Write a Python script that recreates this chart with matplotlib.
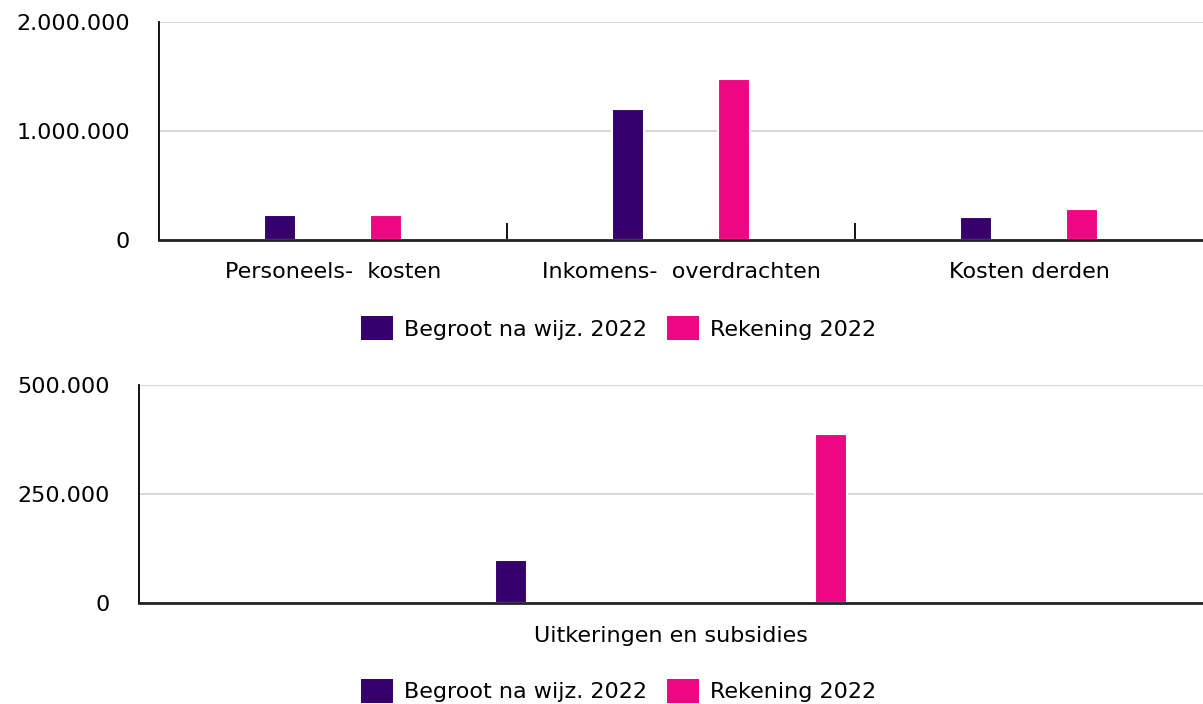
import matplotlib.pyplot as plt
from matplotlib.patches import Patch
from matplotlib.ticker import FuncFormatter, FixedLocator

# data
top_categories = ["Personeels-  kosten", "Inkomens-  overdrachten", "Kosten derden"]
top_begroot = [227000, 1200000, 208000]
top_rekening = [227000, 1478000, 282000]

bottom_categories = ["Uitkeringen en subsidies"]
bottom_begroot = [99000]
bottom_rekening = [388000]

series_names = ["Begroot na wijz. 2022", "Rekening 2022"]
c_begroot = "#35006b"
c_rekening = "#ee0783"

plt.rcParams['font.family'] = ['DejaVu Sans']
fs = 16

fig = plt.figure(figsize=(12.03, 7.04), dpi=100)

def dotted(v, pos):
    return f"{int(round(v)):,}".replace(",", ".")


def draw(ax, cats, beg, rek, ymax, yticks, bw, off):
    x = list(range(len(cats)))
    ax.bar([i - off for i in x], beg, width=bw, color=c_begroot,
           edgecolor='white', linewidth=1.5, zorder=3)
    ax.bar([i + off for i in x], rek, width=bw, color=c_rekening,
           edgecolor='white', linewidth=1.5, zorder=3)
    ax.set_xlim(-0.5, len(cats) - 0.5)
    ax.set_ylim(0, ymax)
    ax.set_yticks(yticks)
    ax.yaxis.set_major_formatter(FuncFormatter(dotted))
    ax.grid(axis='y', color='#d9d9d9', linewidth=1.5, zorder=0)
    ax.set_xticks(x)
    ax.set_xticklabels(cats)
    ax.tick_params(axis='x', which='major', length=0, pad=16, labelsize=fs)
    ax.tick_params(axis='y', length=0, pad=21, labelsize=fs)
    if len(cats) > 1:
        ax.xaxis.set_minor_locator(FixedLocator([i + 0.5 for i in x[:-1]]))
        ax.tick_params(axis='x', which='minor', direction='in', length=12,
                       width=1.3, color='black')
    for s in ['top', 'right']:
        ax.spines[s].set_visible(False)
    ax.spines['left'].set_linewidth(1.3)
    ax.spines['bottom'].set_linewidth(2)
    ax.spines['bottom'].set_color('#222222')
    ax.spines['bottom'].set_zorder(4)
    ax.set_axisbelow(True)


ax1 = fig.add_axes([0.1322, 0.6591, 0.8678, 0.3097])
draw(ax1, top_categories, top_begroot, top_rekening, 2000000,
     [0, 1000000, 2000000], 0.092, 0.152)

ax2 = fig.add_axes([0.1155, 0.1430, 0.8845, 0.3101])
draw(ax2, bottom_categories, bottom_begroot, bottom_rekening, 500000,
     [0, 250000, 500000], 0.030, 0.15)

handles = [Patch(facecolor=c_begroot), Patch(facecolor=c_rekening)]
for yc in [0.534, 0.0185]:
    fig.legend(handles, series_names, loc='center', bbox_to_anchor=(0.514, yc),
               ncol=2, frameon=False, fontsize=fs, handlelength=1.44,
               handleheight=1.28, handletextpad=0.5, columnspacing=0.9,
               borderpad=0, borderaxespad=0)

fig.savefig('out.png', dpi=100)
